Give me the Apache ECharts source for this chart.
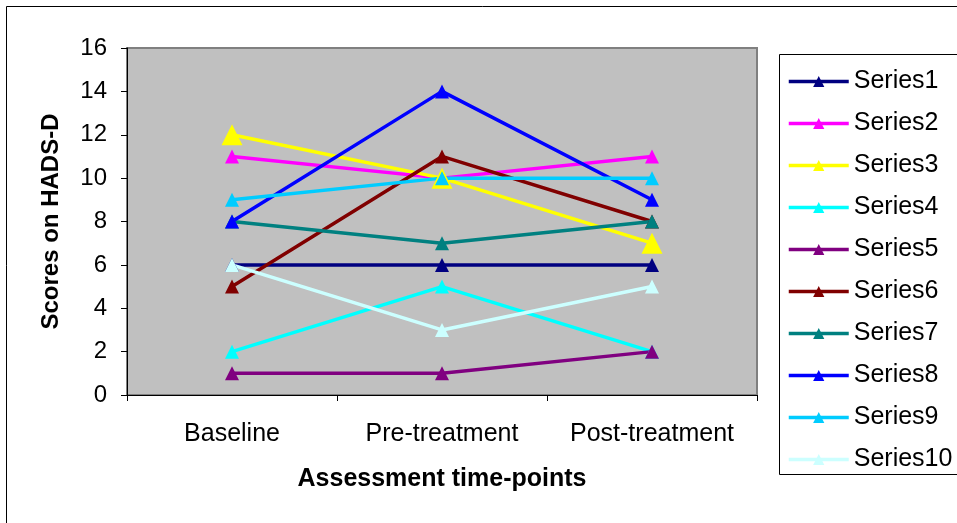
<!DOCTYPE html>
<html>
<head>
<meta charset="utf-8">
<script src="https://cdn.jsdelivr.net/npm/echarts@6/dist/echarts.min.js"></script>
<style>
html, body { margin: 0; padding: 0; background: #fff; }
#chart { width: 957px; height: 523px; }
</style>
</head>
<body>
<div id="chart"></div>
<script>
var categories = ['Baseline', 'Pre-treatment', 'Post-treatment'];
var seriesNames = ['Series1', 'Series2', 'Series3', 'Series4', 'Series5', 'Series6', 'Series7', 'Series8', 'Series9', 'Series10'];
var series1 = [6, 6, 6];
var series2 = [11, 10, 11];
var series3 = [12, 10, 7];
var series4 = [2, 5, 2];
var series5 = [1, 1, 2];
var series6 = [5, 11, 8];
var series7 = [8, 7, 8];
var series8 = [8, 14, 9];
var series9 = [9, 10, 10];
var series10 = [6, 3, 5];
var allValues = [series1, series2, series3, series4, series5, series6, series7, series8, series9, series10];
var colors = ['#000080', '#FF00FF', '#FFFF00', '#00FFFF', '#800080', '#800000', '#008080', '#0000FF', '#00CCFF', '#CCFFFF'];

var font = '"Liberation Sans", Arial, sans-serif';

var chart = echarts.init(document.getElementById('chart'));

var series = seriesNames.map(function(name, i){
	return {
		name: name,
		type: 'line',
		data: allValues[i],
		symbol: 'triangle',
		symbolSize: i === 2 ? 21 : 14,
		lineStyle: { color: colors[i], width: 3.5 },
		itemStyle: { color: colors[i], borderWidth: 0 },
		emphasis: { disabled: true }
	};
});

var option = {
	animation: false,
	graphic: [
		{ type: 'rect', shape: { x: 6.5, y: 6.5, width: 980, height: 540 }, style: { fill: 'none', stroke: '#000', lineWidth: 1 }, silent: true },
		{ type: 'rect', shape: { x: 779.5, y: 54.5, width: 200, height: 420 }, style: { fill: '#fff', stroke: '#000', lineWidth: 1 }, silent: true }
	],
	grid: {
		left: 127, right: 200, top: 48, bottom: 128,
		show: true, backgroundColor: '#C0C0C0', borderColor: '#808080', borderWidth: 2
	},
	legend: {
		data: seriesNames,
		orient: 'vertical',
		left: 782, top: 64,
		itemWidth: 60, itemHeight: 14, itemGap: 17,
		lineStyle: { width: 3.5 },
		textStyle: { fontFamily: font, fontSize: 25, lineHeight: 25, color: '#000' },
		selectedMode: false
	},
	xAxis: {
		type: 'category',
		data: categories,
		boundaryGap: true,
		name: 'Assessment time-points',
		nameLocation: 'middle',
		nameGap: 72,
		nameTextStyle: { fontFamily: font, fontSize: 25, fontWeight: 'bold', color: '#000' },
		axisLine: { lineStyle: { color: '#000', width: 1 } },
		axisTick: { show: true, inside: false, length: 6, interval: 0, lineStyle: { color: '#000' } },
		axisLabel: { fontFamily: font, fontSize: 25, color: '#000', margin: 27, interval: 0, hideOverlap: false },
		splitLine: { show: false }
	},
	yAxis: {
		type: 'value',
		min: 0, max: 16, interval: 2,
		name: 'Scores on HADS-D',
		nameLocation: 'middle',
		nameGap: 64,
		nameRotate: 90,
		nameTextStyle: { fontFamily: font, fontSize: 24, fontWeight: 'bold', color: '#000' },
		axisLine: { show: true, lineStyle: { color: '#000', width: 1 } },
		axisTick: { show: true, inside: false, length: 6, lineStyle: { color: '#000' } },
		axisLabel: { fontFamily: font, fontSize: 24, color: '#000', margin: 20 },
		splitLine: { show: false }
	},
	series: series
};
chart.setOption(option);
</script>
</body>
</html>
